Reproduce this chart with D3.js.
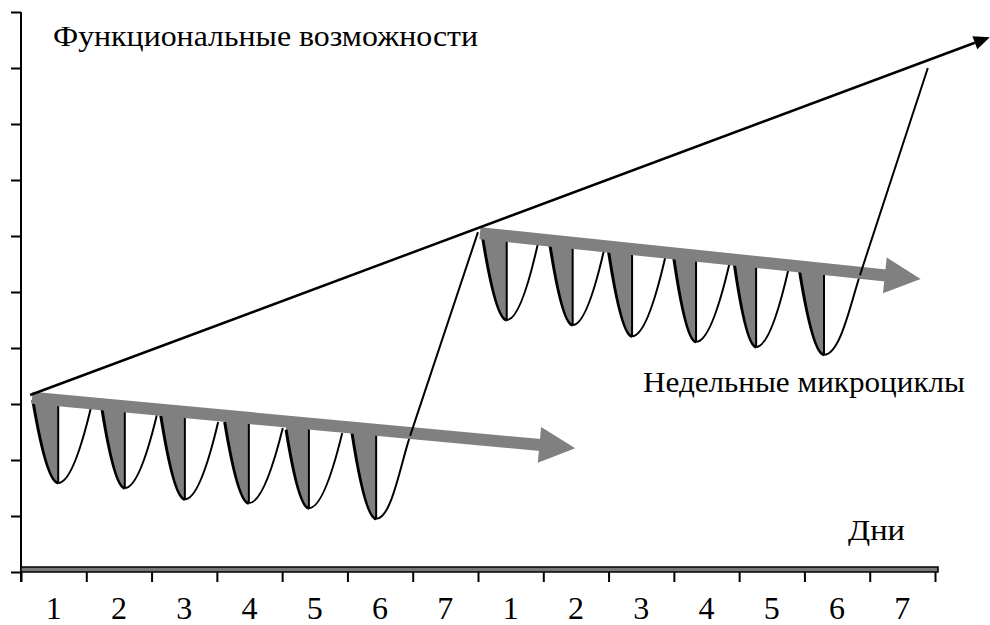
<!DOCTYPE html>
<html>
<head>
<meta charset="utf-8">
<script src="https://cdn.jsdelivr.net/npm/d3@7/dist/d3.min.js"></script>
<style>
  body { margin: 0; background: #fff; }
  svg text { font-family: "Liberation Serif", Tinos, "Times New Roman", "DejaVu Serif", serif; }
</style>
</head>
<body>
<div id="chart"></div>
<script>
// days on the x axis, functional level on the y axis (10 tick steps)
var dayLabels = ["1","2","3","4","5","6","7","1","2","3","4","5","6","7"];
var levelTicks = [0,1,2,3,4,5,6,7,8,9,10];

// week 1: start of each day (top left), the dip, and recovery (top right)
var week1Left   = [[0.18,3.07],[1.24,2.91],[2.14,2.80],[3.12,2.68],[4.06,2.54],[5.07,2.48]];
var week1Valley = [[0.57,1.59],[1.59,1.50],[2.51,1.30],[3.49,1.23],[4.41,1.14],[5.44,0.95]];
var week1Right  = [[1.07,2.93],[2.08,2.80],[3.02,2.68],[4.01,2.57],[4.92,2.48],[5.96,2.43]];
var week1Jump   = [[5.96,2.43],[7.00,6.07]];
var week1Band   = [[0.17,3.11],[8.49,2.21]];

// week 2
var week2Left   = [[7.06,6.05],[8.09,5.93],[8.99,5.80],[9.99,5.68],[10.92,5.55],[11.92,5.41]];
var week2Valley = [[7.44,4.50],[8.45,4.41],[9.36,4.21],[10.34,4.11],[11.26,4.02],[12.30,3.88]];
var week2Right  = [[7.93,5.93],[8.94,5.80],[9.88,5.68],[10.86,5.55],[11.76,5.43],[12.85,5.30]];
var week2Jump   = [[12.85,5.30],[13.89,9.00]];
var week2Band   = [[7.03,6.05],[13.78,5.23]];

// overall rise of functional capacity
var trend = [[0.14,3.16],[14.84,9.55]];

var width = 990,
    height = 625;

var x = d3.scaleLinear().domain([0, 14]).range([21, 935]);
var y = d3.scaleLinear().domain([0, 10]).range([572, 12]);

var svg = d3.select("#chart")
    .append("svg")
    .attr("width", width)
    .attr("height", height);

// ---- axes
var yAxis = d3.axisLeft(y).tickValues(levelTicks).tickSize(10).tickFormat("");
var gy = svg.append("g")
    .attr("transform", "translate(" + x(0) + ",0)")
    .call(yAxis);
gy.select(".domain").attr("d", "M0," + y(10) + "V" + (y(0) + 10))
    .attr("stroke-width", 2);
gy.selectAll(".tick line").attr("stroke-width", 2);

var gx = svg.append("g")
    .attr("transform", "translate(0," + y(0) + ")")
    .call(d3.axisBottom(x).tickValues(d3.range(15)).tickSize(10).tickFormat(""));
gx.select(".domain").remove();
gx.selectAll(".tick line").attr("stroke-width", 2);

// thick shaded base line
svg.append("rect")
    .attr("x", x(0))
    .attr("y", y(0) - 5)
    .attr("width", x(14) - x(0) + 3)
    .attr("height", 5)
    .attr("fill", "#777")
    .attr("stroke", "#000")
    .attr("stroke-width", 1.5);

svg.selectAll(".daylabel")
    .data(dayLabels)
    .enter().append("text")
    .attr("class", "daylabel")
    .attr("x", function(d, i) { return x(i + 0.5); })
    .attr("y", 619)
    .attr("text-anchor", "middle")
    .style("font-size", "32px")
    .text(function(d) { return d; });

// ---- helpers
function px(p) { return [x(p[0]), y(p[1])]; }

function bandY(band, xp) {
  var a = px(band[0]), b = px(band[1]);
  return a[1] + (b[1] - a[1]) * (xp - a[0]) / (b[0] - a[0]);
}

function drawWeek(left, valley, right, jump, band) {
  var g = svg.append("g");
  var last = left.length - 1;

  // grey falling half of every day
  left.forEach(function(l, i) {
    var L = px(l), V = px(valley[i]);
    var p = d3.path();
    p.moveTo(L[0], L[1]);
    p.quadraticCurveTo(L[0] + (V[0] - L[0]) * 0.55, V[1], V[0], V[1]);
    p.lineTo(V[0], bandY(band, V[0]));
    p.lineTo(L[0], bandY(band, L[0]));
    p.closePath();
    g.append("path").attr("d", p.toString()).attr("fill", "#808080");
  });

  left.forEach(function(l, i) {
    var L = px(l), V = px(valley[i]), R = px(right[i]);
    var p = d3.path();
    p.moveTo(L[0], L[1]);
    p.quadraticCurveTo(L[0] + (V[0] - L[0]) * 0.55, V[1], V[0], V[1]);
    g.append("path").attr("d", p.toString())
        .attr("fill", "none").attr("stroke", "#000").attr("stroke-width", 3);

    var q = d3.path();
    q.moveTo(V[0], V[1]);
    if (i < last) {
      q.quadraticCurveTo(V[0] + (R[0] - V[0]) * 0.45, V[1], R[0], R[1]);
    } else {
      // last day bends into the straight rise to the next week
      var E = px(jump[1]);
      var dx = E[0] - R[0], dy = E[1] - R[1], len = Math.sqrt(dx * dx + dy * dy);
      var seg = Math.sqrt((R[0] - V[0]) * (R[0] - V[0]) + (R[1] - V[1]) * (R[1] - V[1]));
      q.bezierCurveTo(V[0] + (R[0] - V[0]) * 0.45, V[1],
                      R[0] - dx / len * seg * 0.35, R[1] - dy / len * seg * 0.35,
                      R[0], R[1]);
    }
    g.append("path").attr("d", q.toString())
        .attr("fill", "none").attr("stroke", "#000").attr("stroke-width", 2);

    g.append("line")
        .attr("x1", V[0]).attr("y1", V[1])
        .attr("x2", V[0]).attr("y2", bandY(band, V[0]))
        .attr("stroke", "#000").attr("stroke-width", 2);
  });

  // grey trend arrow of the week
  var A = px(band[0]), B = px(band[1]);
  var bx = B[0] - A[0], by = B[1] - A[1], bl = Math.sqrt(bx * bx + by * by);
  var ux = bx / bl, uy = by / bl, head = 36, half = 18;
  var base = [B[0] - ux * head, B[1] - uy * head];
  g.append("line")
      .attr("x1", A[0]).attr("y1", A[1])
      .attr("x2", base[0] + ux).attr("y2", base[1] + uy)
      .attr("stroke", "#808080").attr("stroke-width", 12);
  g.append("path")
      .attr("d", "M" + B[0] + "," + B[1] +
                 "L" + (base[0] - uy * half) + "," + (base[1] + ux * half) +
                 "L" + (base[0] + uy * half) + "," + (base[1] - ux * half) + "Z")
      .attr("fill", "#808080");

  g.append("path")
      .attr("d", d3.line()(jump.map(px)))
      .attr("fill", "none").attr("stroke", "#000").attr("stroke-width", 2);
}

drawWeek(week1Left, week1Valley, week1Right, week1Jump, week1Band);
drawWeek(week2Left, week2Valley, week2Right, week2Jump, week2Band);

// ---- black overall arrow
var T0 = px(trend[0]), T1 = px(trend[1]);
var tx = T1[0] - T0[0], ty = T1[1] - T0[1], tl = Math.sqrt(tx * tx + ty * ty);
var vx = tx / tl, vy = ty / tl;
var tb = [T1[0] - vx * 16, T1[1] - vy * 16];
svg.append("line")
    .attr("x1", T0[0]).attr("y1", T0[1])
    .attr("x2", tb[0]).attr("y2", tb[1])
    .attr("stroke", "#000").attr("stroke-width", 2.5);
svg.append("path")
    .attr("d", "M" + T1[0] + "," + T1[1] +
               "L" + (tb[0] - vy * 7) + "," + (tb[1] + vx * 7) +
               "L" + (tb[0] + vy * 7) + "," + (tb[1] - vx * 7) + "Z")
    .attr("fill", "#000");

// ---- labels (widths follow the reference)
function label(tx, ty, s, w) {
  svg.append("text").attr("x", tx).attr("y", ty)
      .style("font-size", "30px")
      .attr("textLength", w)
      .attr("lengthAdjust", "spacingAndGlyphs")
      .text(s);
}
label(53, 46, "Функциональные возможности", 425);
label(643, 392, "Недельные микроциклы", 322);
label(848, 540, "Дни", 57);
</script>
</body>
</html>
